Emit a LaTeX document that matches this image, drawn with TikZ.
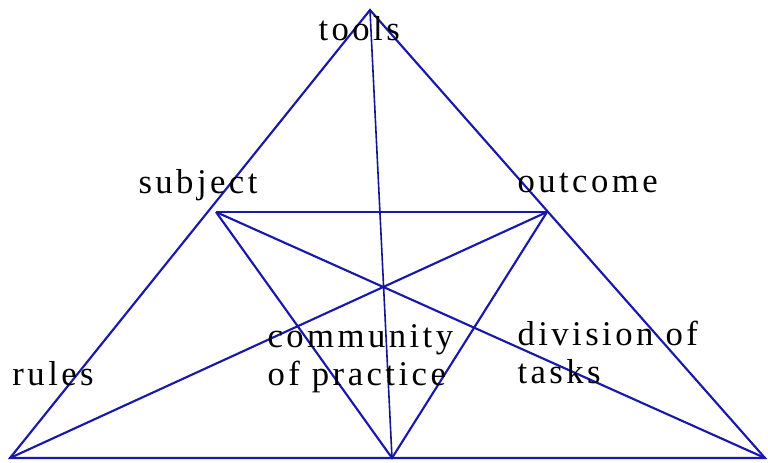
\documentclass[tikz,border=0pt]{standalone}
\usepackage{fontspec}
\setmainfont{Liberation Serif}[LetterSpace=10]
\definecolor{triblue}{RGB}{24,24,170}
\tikzset{every picture/.style={line width=0.75pt}}
\begin{document}
\begin{tikzpicture}[
            x=0.75pt,
            y=0.75pt,
            yscale=-1,
            xscale=1,
            every node/.style={text=black},
            edge/.style={draw=triblue, line width=1.6pt},
            spine/.style={draw=triblue!85!black, line width=1.2pt},
            lbl/.style={anchor=base west, inner sep=0pt, align=left,
                font=\fontsize{26}{28.5}\selectfont}
        ]
            \useasboundingbox (0,0) rectangle (768,462);
            \coordinate (tools) at (370,10);
            \coordinate (subject) at (216,212);
            \coordinate (outcome) at (547,212);
            \coordinate (rules) at (10,458);
            \coordinate (community) at (392,458);
            \coordinate (division) at (765,458);

            \draw [edge] (tools) -- (rules) -- (division) -- cycle;
            \draw [edge] (subject) -- (outcome);
            \draw [edge] (subject) -- (community) -- (outcome);
            \draw [edge] (subject) -- (division);
            \draw [edge] (outcome) -- (rules);
            \draw [spine] (tools) -- (community);

            \node [lbl] (ltools) at (318,40) {tools};
            \node [lbl] (lsubject) at (138,193) {subject};
            \node [lbl] (loutcome) at (517,192) {outcome};
            \node [lbl] (lrules) at (12,385) {rules};
            \node [lbl] (lcommunity) at (267,385) {community\\of practice};
            \node [lbl] (ldivision) at (517,383) {division of\\tasks};
        \end{tikzpicture}
\end{document}
